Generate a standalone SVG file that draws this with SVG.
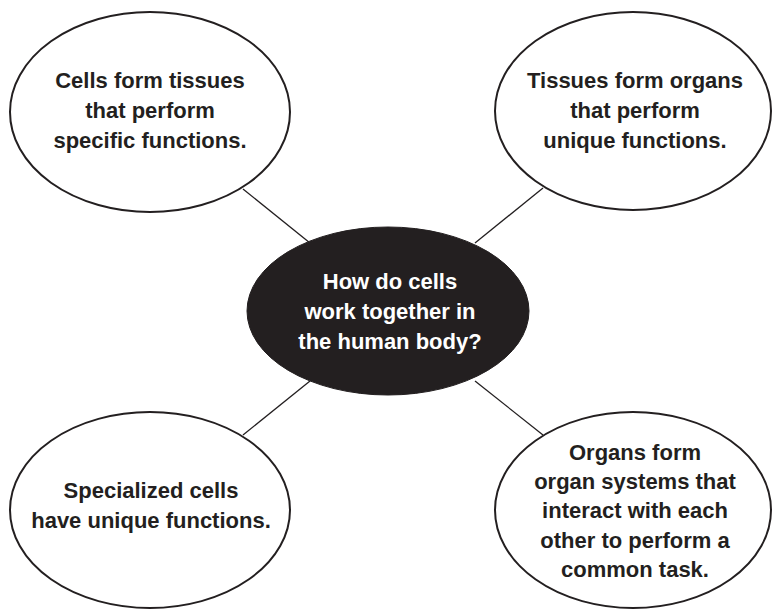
<svg xmlns="http://www.w3.org/2000/svg" width="772" height="610" viewBox="0 0 772 610">
<style>
.bub{fill:#fff;stroke:#231f20;stroke-width:2}
.hub{fill:#231f20;stroke:#231f20;stroke-width:1}
.con line{stroke:#231f20;stroke-width:1.3}
text{font-family:"Liberation Sans",Arial,sans-serif;font-weight:bold;font-size:22px;text-anchor:middle;fill:#231f20}
.hubt{fill:#fff}
</style>
<rect width="772" height="610" fill="#fff"/>
<g id="connectors" class="con">
<line x1="243" y1="189" x2="310" y2="243"/>
<line x1="543" y1="188" x2="475" y2="243"/>
<line x1="243" y1="435" x2="310" y2="381"/>
<line x1="543" y1="435" x2="475" y2="381"/>
</g>
<g id="center">
<ellipse class="hub" cx="388" cy="311" rx="141" ry="84"/>
<text class="hubt" x="390" y="289">How do cells</text>
<text class="hubt" x="390" y="319">work together in</text>
<text class="hubt" x="390" y="349">the human body?</text>
</g>
<g id="tissues">
<ellipse class="bub" cx="150" cy="112" rx="140" ry="100"/>
<text x="150" y="88">Cells form tissues</text>
<text x="150" y="118">that perform</text>
<text x="150" y="148">specific functions.</text>
</g>
<g id="organs">
<ellipse class="bub" cx="633" cy="111" rx="138" ry="99"/>
<text x="635" y="88">Tissues form organs</text>
<text x="635" y="118">that perform</text>
<text x="635" y="148">unique functions.</text>
</g>
<g id="specialized">
<ellipse class="bub" cx="150" cy="510" rx="140" ry="98"/>
<text x="151" y="498">Specialized cells</text>
<text x="151" y="528">have unique functions.</text>
</g>
<g id="systems">
<ellipse class="bub" cx="633" cy="510" rx="138" ry="98"/>
<text x="635" y="460">Organs form</text>
<text x="635" y="489">organ systems that</text>
<text x="635" y="518">interact with each</text>
<text x="635" y="548">other to perform a</text>
<text x="635" y="577">common task.</text>
</g>
</svg>
